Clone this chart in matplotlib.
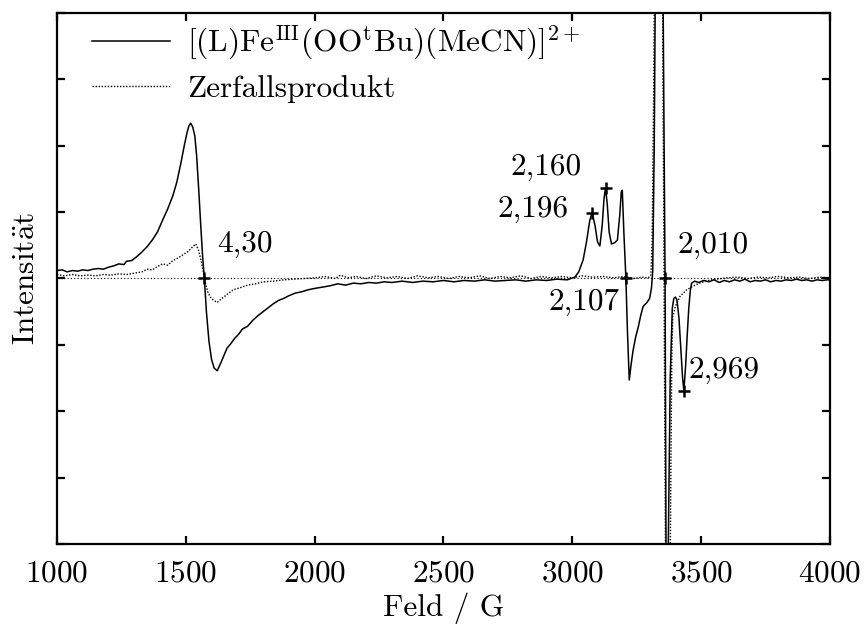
import matplotlib
matplotlib.use("Agg")
import matplotlib.pyplot as plt

plt.rcParams["font.family"] = ["cmr10", "DejaVu Serif"]
plt.rcParams["mathtext.fontset"] = "cm"
plt.rcParams["axes.formatter.use_mathtext"] = True

# ── Daten ───────────────────────────────────────────────────────────────────
feld_a = [1000, 1020, 1040, 1060, 1080, 1100, 1120, 1140, 1160, 1180, 1200,
          1220, 1240, 1260, 1270, 1290, 1310, 1330, 1350, 1370, 1390, 1410,
          1430, 1450, 1465, 1480, 1495, 1505, 1512, 1519, 1527, 1535, 1542,
          1550, 1558, 1565, 1572, 1580, 1590, 1600, 1610, 1622, 1635, 1648,
          1660, 1675, 1690, 1705, 1720, 1740, 1760, 1780, 1800, 1820, 1840,
          1860, 1880, 1900, 1925, 1950, 1975, 2000, 2030, 2060, 2090, 2120,
          2150, 2180, 2210, 2240, 2270, 2300, 2340, 2380, 2420, 2460, 2500,
          2540, 2580, 2620, 2660, 2700, 2740, 2780, 2820, 2860, 2900, 2940,
          2980, 3010, 3025, 3042, 3055, 3068, 3077, 3088, 3098, 3107, 3116,
          3123, 3129, 3136, 3143, 3152, 3165, 3175, 3184, 3190, 3194, 3200,
          3208, 3214, 3221, 3228, 3236, 3246, 3256, 3266, 3275, 3290, 3300,
          3307, 3312, 3318, 3325, 3335, 3345, 3352, 3360, 3364, 3368, 3372,
          3380, 3388, 3394, 3400, 3406, 3414, 3422, 3428, 3433, 3440, 3446,
          3452, 3458, 3463, 3475, 3490, 3510, 3530, 3550, 3570, 3590, 3610,
          3630, 3650, 3670, 3690, 3710, 3730, 3750, 3770, 3790, 3810, 3830,
          3850, 3870, 3890, 3910, 3930, 3950, 3970, 3990, 4000]
int_a = [0.12, 0.13, 0.10, 0.12, 0.11, 0.13, 0.12, 0.14, 0.15, 0.14, 0.17,
         0.19, 0.22, 0.21, 0.26, 0.27, 0.33, 0.40, 0.48, 0.58, 0.70, 0.88,
         1.05, 1.25, 1.45, 1.72, 2.02, 2.20, 2.30, 2.34, 2.28, 2.15, 1.85,
         1.35, 0.80, 0.35, 0.00, -0.50, -0.95, -1.22, -1.35, -1.39, -1.28, -1.16,
         -1.05, -0.98, -0.90, -0.84, -0.76, -0.72, -0.63, -0.56, -0.50, -0.44, -0.38,
         -0.33, -0.30, -0.26, -0.22, -0.20, -0.17, -0.15, -0.13, -0.11, -0.08, -0.10,
         -0.07, -0.08, -0.06, -0.07, -0.05, -0.06, -0.04, -0.06, -0.04, -0.05, -0.03,
         -0.05, -0.03, -0.04, -0.02, -0.04, -0.03, -0.02, -0.04, -0.02, -0.03, -0.01,
         -0.02, 0.02, 0.10, 0.28, 0.55, 0.88, 0.99, 0.80, 0.55, 0.49, 0.80,
         1.20, 1.37, 1.10, 0.70, 0.52, 0.54, 0.58, 0.95, 1.30, 1.33, 0.70,
         0.00, -0.80, -1.53, -1.30, -1.08, -0.88, -0.73, -0.55, -0.42, -0.36, -0.30,
         -0.15, 0.10, 2.0, 6.0, 9.0, 7.0, 4.4, 0.0, -4.4, -7.0, -4.2,
         -1.5, -0.45, -0.30, -0.28, -0.32, -0.60, -1.10, -1.50, -1.69, -1.30, -0.85,
         -0.45, -0.18, -0.07, -0.04, -0.06, -0.03, -0.05, -0.02, -0.06, -0.03, -0.05,
         -0.02, -0.04, -0.01, -0.05, -0.03, -0.04, -0.02, -0.05, -0.03, -0.04, -0.02,
         -0.03, -0.01, -0.03, -0.02, -0.04, -0.02, -0.03, -0.02, -0.02]

feld_b = [1000, 1030, 1060, 1090, 1120, 1150, 1180, 1210, 1240, 1270, 1300,
          1330, 1350, 1370, 1390, 1410, 1430, 1450, 1470, 1490, 1510, 1525,
          1539, 1550, 1560, 1568, 1575, 1585, 1595, 1608, 1622, 1640, 1660,
          1684, 1710, 1740, 1770, 1800, 1840, 1880, 1920, 1960, 2000, 2040,
          2080, 2100, 2130, 2160, 2200, 2240, 2280, 2320, 2360, 2400, 2440,
          2480, 2520, 2560, 2600, 2640, 2680, 2720, 2760, 2800, 2840, 2880,
          2920, 2960, 3000, 3040, 3080, 3120, 3160, 3200, 3240, 3270, 3295,
          3305, 3310, 3315, 3322, 3332, 3342, 3350, 3356, 3362, 3370, 3376,
          3380, 3386, 3390, 3400, 3418, 3444, 3476, 3500, 3530, 3560, 3600,
          3640, 3680, 3720, 3760, 3800, 3840, 3880, 3920, 3960, 4000]
int_b = [0.06, 0.04, 0.06, 0.04, 0.05, 0.04, 0.06, 0.05, 0.07, 0.06, 0.08,
         0.10, 0.14, 0.13, 0.18, 0.22, 0.20, 0.27, 0.31, 0.36, 0.41, 0.47,
         0.52, 0.42, 0.26, 0.10, -0.05, -0.20, -0.28, -0.33, -0.36, -0.30, -0.24,
         -0.17, -0.14, -0.10, -0.08, -0.05, -0.04, -0.02, -0.01, 0.00, 0.01, 0.03,
         0.00, 0.05, 0.01, 0.03, 0.00, 0.04, 0.01, 0.03, 0.00, 0.04, 0.01,
         0.03, 0.00, 0.03, 0.01, 0.04, 0.00, 0.03, 0.01, 0.04, 0.00, 0.03,
         0.01, 0.03, 0.01, 0.04, 0.02, 0.03, 0.01, 0.03, 0.00, 0.02, 0.01,
         0.05, 0.6, 2.5, 6.0, 10.0, 8.0, 4.5, 0.0, -4.5, -9.0, -7.0,
         -4.2, -1.2, -0.58, -0.42, -0.27, -0.17, -0.10, -0.06, -0.03, -0.01, 0.01,
         0.02, 0.00, 0.02, 0.01, 0.03, 0.01, 0.02, 0.00, 0.02, 0.01]

# g-Werte (Markierungen)
g_feld = [1572, 3077, 3129, 3208, 3360, 3433]
g_int = [0.0, 0.99, 1.37, 0.0, 0.0, -1.69]
g_text = ["4,30", "2,196", "2,160", "2,107", "2,010", "2,969"]
# Textpositionen (x, y, ha)
g_pos = [(1621, 0.52, "left"), (2984, 1.05, "right"), (3037, 1.68, "right"),
         (3185, -0.35, "right"), (3410, 0.51, "left"), (3450, -1.38, "left")]

FS = 22.5

fig = plt.figure(figsize=(8.67, 6.31), dpi=100)
ax = fig.add_axes([0.0657, 0.1379, 0.8916, 0.8415])

ax.axhline(0, color="black", lw=0.8, ls=(0, (1, 2)), zorder=1)
ax.plot(feld_a, int_a, color="black", lw=1.1, zorder=3,
        label=r"$[(\mathrm{L})\mathrm{Fe}^{\mathrm{III}}(\mathrm{OO}^{\mathrm{t}}"
              r"\mathrm{Bu})(\mathrm{MeCN})]^{2+}$")
ax.plot(feld_b, int_b, color="black", lw=1.0, ls=(0, (1, 1.2)), zorder=2,
        label="Zerfallsprodukt")
ax.plot(g_feld, g_int, ls="none", marker="+", ms=8, mew=1.8, color="black", zorder=4)

for t, (x, y, ha) in zip(g_text, g_pos):
    ax.text(x, y, t, fontsize=FS, ha=ha, va="center")

ax.set_xlim(1000, 4000)
ax.set_ylim(-4, 4)
ax.set_xticks([1000, 1500, 2000, 2500, 3000, 3500, 4000])
ax.set_yticks([-4, -3, -2, -1, 0, 1, 2, 3, 4])
ax.set_yticklabels([])
ax.tick_params(direction="in", length=6, width=1.6, top=True, right=True,
               labelsize=FS, pad=11)
for s in ax.spines.values():
    s.set_linewidth(1.6)

ax.set_xlabel("Feld / G", fontsize=FS, labelpad=4)
ax.set_ylabel(r"$\mathrm{Intensit\ddot{a}t}$", fontsize=FS)
ax.yaxis.set_label_coords(-0.022, 0.5)

ax.legend(loc="upper left", bbox_to_anchor=(0.045, 0.98), frameon=False,
          fontsize=FS, handlelength=2.5, handletextpad=0.55, labelspacing=0.4,
          borderpad=0, borderaxespad=0)

fig.savefig("out.png", dpi=100, facecolor="white")
